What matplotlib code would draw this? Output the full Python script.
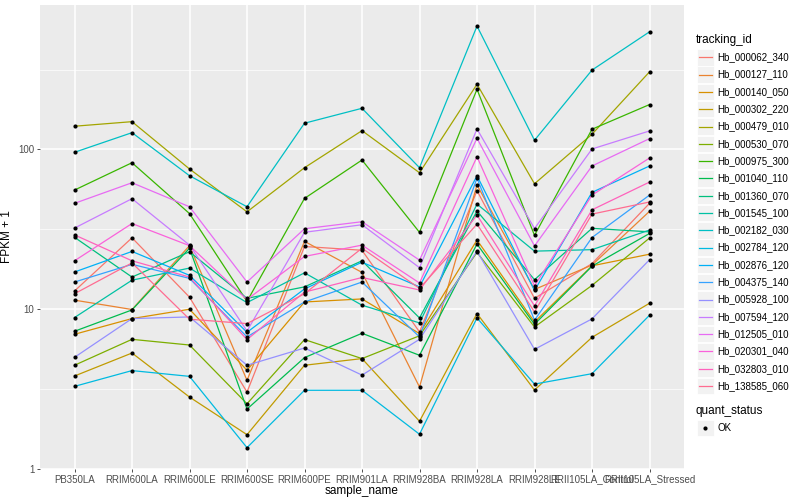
import numpy as np
import matplotlib
matplotlib.use("Agg")
import matplotlib.pyplot as plt
from matplotlib.patches import Rectangle
from matplotlib.lines import Line2D

plt.rcParams['font.family'] = ['Liberation Sans', 'DejaVu Sans']

# ── data (FPKM + 1) ─────────────────────────────────────────────────────────
samples = ["PB350LA", "RRIM600LA", "RRIM600LE", "RRIM600SE", "RRIM600PE",
           "RRIM901LA", "RRIM928BA", "RRIM928LA", "RRIM928LE",
           "RRII105LA_Control", "RRII105LA_Stressed"]

tracking_ids = ["Hb_000062_340", "Hb_000127_110", "Hb_000140_050", "Hb_000302_220",
                "Hb_000479_010", "Hb_000530_070", "Hb_000975_300", "Hb_001040_110",
                "Hb_001360_070", "Hb_001545_100", "Hb_002182_030", "Hb_002784_120",
                "Hb_002876_120", "Hb_004375_140", "Hb_005928_100", "Hb_007594_120",
                "Hb_012505_010", "Hb_020301_040", "Hb_032803_010", "Hb_138585_060"]

hb_000062_340 = [13.0, 28.0, 11.9, 3.03, 24.7, 23.4, 7.21, 55.2, 11.7, 19.3, 46.0]
hb_000127_110 = [11.4, 9.96, 25.0, 3.59, 26.6, 17.0, 3.26, 59.9, 13.3, 18.9, 41.0]
hb_000140_050 = [6.97, 8.74, 10.0, 4.15, 11.1, 11.6, 7.04, 27.1, 8.32, 18.7, 22.1]
hb_000302_220 = [3.82, 5.32, 2.82, 1.64, 4.46, 4.91, 1.99, 9.40, 3.12, 6.67, 10.9]
hb_000479_010 = [139.8, 149.3, 75.5, 40.7, 76.9, 131.2, 71.5, 256, 61.0, 124.5, 306]
hb_000530_070 = [4.46, 6.48, 5.97, 2.56, 6.46, 4.91, 6.82, 22.7, 7.74, 14.1, 27.9]
hb_000975_300 = [55.7, 82.6, 39.7, 11.2, 49.4, 85.9, 30.3, 238, 29.0, 133.9, 191]
hb_001040_110 = [7.28, 9.90, 24.1, 2.37, 4.98, 7.07, 5.15, 25.6, 8.05, 18.6, 29.8]
hb_001360_070 = [28.2, 15.9, 22.9, 11.7, 13.8, 20.1, 8.82, 41.2, 15.3, 32.1, 30.5]
hb_001545_100 = [8.87, 15.2, 18.1, 11.0, 16.9, 10.6, 8.21, 45.5, 23.1, 23.6, 31.3]
hb_002182_030 = [96.0, 127.4, 68.5, 43.8, 146, 181, 76.9, 592, 114.2, 314, 545]
hb_002784_120 = [3.29, 4.13, 3.80, 1.36, 3.11, 3.11, 1.65, 8.82, 3.40, 3.95, 9.17]
hb_002876_120 = [17.1, 23.0, 16.3, 7.17, 13.4, 19.7, 13.8, 68.5, 13.1, 53.9, 78.8]
hb_004375_140 = [14.8, 19.1, 15.6, 6.71, 11.1, 14.8, 6.71, 66.0, 8.53, 28.1, 51.8]
hb_005928_100 = [5.00, 8.74, 8.95, 4.46, 5.72, 3.87, 6.48, 23.1, 5.61, 8.70, 20.4]
hb_007594_120 = [32.2, 49.2, 25.2, 7.31, 30.3, 33.8, 18.2, 134.4, 32.0, 100.7, 130.6]
hb_012505_010 = [46.0, 61.9, 43.8, 14.8, 31.9, 35.3, 20.3, 117.5, 24.9, 78.8, 116.9]
hb_020301_040 = [20.1, 34.4, 25.0, 11.5, 21.4, 25.2, 14.6, 90.1, 14.0, 51.8, 88.4]
hb_032803_010 = [29.2, 20.1, 15.9, 6.46, 12.8, 15.8, 13.2, 38.9, 10.5, 41.9, 62.5]
hb_138585_060 = [12.5, 19.5, 8.66, 8.13, 12.5, 24.1, 13.5, 34.1, 9.62, 39.4, 46.9]

series = [hb_000062_340, hb_000127_110, hb_000140_050, hb_000302_220, hb_000479_010,
          hb_000530_070, hb_000975_300, hb_001040_110, hb_001360_070, hb_001545_100,
          hb_002182_030, hb_002784_120, hb_002876_120, hb_004375_140, hb_005928_100,
          hb_007594_120, hb_012505_010, hb_020301_040, hb_032803_010, hb_138585_060]

# ggplot2 hue palette, 20 levels
colors = ["#F8766D", "#EA8331", "#D89000", "#C09B00", "#A3A500", "#7CAE00", "#39B600",
          "#00BB4E", "#00BF7D", "#00C1A3", "#00BFC4", "#00BAE0", "#00B0F6", "#35A2FF",
          "#9590FF", "#C77CFF", "#E76BF3", "#FA62DB", "#FF62BC", "#FF6C91"]

# ── figure ──────────────────────────────────────────────────────────────────
W, H = 800, 500
fig = plt.figure(figsize=(8, 5), dpi=100)
ax = fig.add_axes([40 / W, 1 - 469 / H, (684 - 40) / W, (469 - 5) / H])
ax.set_facecolor("#EBEBEB")

x = np.arange(len(samples))
for vals, col in zip(series, colors):
    ax.plot(x, vals, color=col, linewidth=0.9, zorder=3)
for vals in series:
    ax.scatter(x, vals, s=9, color="black", marker="o", linewidths=0, zorder=4)

ax.set_yscale("log")
allv = np.log10(np.concatenate([np.asarray(s, float) for s in series]))
pad = 0.05 * (allv.max() - allv.min())
ax.set_ylim(10 ** (allv.min() - pad), 10 ** (allv.max() + pad))
ax.set_xlim(-0.6, len(samples) - 0.4)

ax.set_yticks([1, 10, 100])
ax.set_yticklabels(["1", "10", "100"])
ax.yaxis.set_minor_locator(matplotlib.ticker.FixedLocator([10 ** 0.5, 10 ** 1.5, 10 ** 2.5]))
ax.yaxis.set_minor_formatter(matplotlib.ticker.NullFormatter())
ax.set_xticks(x)
ax.set_xticklabels(samples)

ax.grid(which="major", color="white", linewidth=1.1, zorder=1)
ax.grid(which="minor", axis="y", color="white", linewidth=0.5, zorder=1)
ax.set_axisbelow(True)
for sp in ax.spines.values():
    sp.set_visible(False)
ax.tick_params(axis="both", which="major", length=2.5, width=0.6, color="#333333",
               labelsize=7, labelcolor="#4D4D4D", pad=1.5)
ax.tick_params(axis="y", which="minor", length=0)

ax.set_xlabel("sample_name", fontsize=8.5, labelpad=0.5)
ax.set_ylabel("FPKM + 1", fontsize=8.5, labelpad=4)

# ── legends (drawn in pixel space) ──────────────────────────────────────────
lax = fig.add_axes([0, 0, 1, 1])
lax.set_xlim(0, W)
lax.set_ylim(H, 0)
lax.axis("off")

lax.text(696, 40, "tracking_id", fontsize=8.5, va="center", ha="left")
step = 17.3
for i, (tid, col) in enumerate(zip(tracking_ids, colors)):
    yc = 57.3 + i * step
    lax.add_patch(Rectangle((697, yc - 8.2), 16.5, 16.4, facecolor="#F2F2F2",
                            edgecolor="white", linewidth=0.6))
    lax.add_line(Line2D([698.5, 711.5], [yc, yc], color=col, linewidth=0.9))
    lax.text(717, yc, tid, fontsize=7, va="center", ha="left")

lax.text(696, 411, "quant_status", fontsize=8.5, va="center", ha="left")
lax.add_patch(Rectangle((697, 419.5), 16.5, 16.4, facecolor="#F2F2F2",
                        edgecolor="white", linewidth=0.6))
lax.scatter([705.2], [427.7], s=9, color="black", marker="o", linewidths=0)
lax.text(717, 427.7, "OK", fontsize=7, va="center", ha="left")

fig.savefig("out.png", dpi=100, facecolor="white")
